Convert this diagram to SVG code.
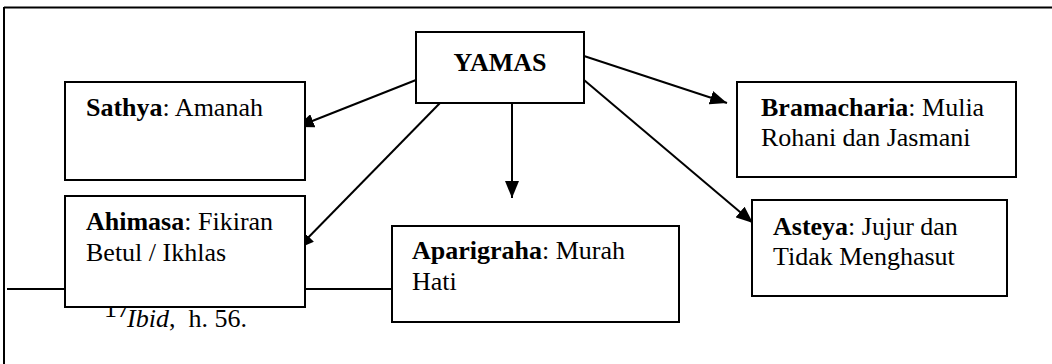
<svg xmlns="http://www.w3.org/2000/svg" width="1052" height="364" viewBox="0 0 1052 364">
<style>
.box{fill:#fff;stroke:#000;stroke-width:2}
.t{font-family:"Liberation Serif","Times New Roman",serif;font-size:26px;fill:#000}
.b{font-weight:bold}
.c{stroke:#000;stroke-width:2;fill:none}
.frame{stroke:#000;stroke-width:2;fill:none}
</style>
<defs>
<marker id="ah" markerUnits="userSpaceOnUse" markerWidth="18" markerHeight="14" refX="17" refY="7" orient="auto">
<path d="M0,0 L17,7 L0,14 z" fill="#000"/>
</marker>
</defs>
<rect width="1052" height="364" fill="#fff"/>
<g id="frame">
<line class="frame" x1="4" y1="7.5" x2="1052" y2="7.5"/>
<line class="frame" x1="4" y1="7" x2="4" y2="364"/>
<line class="frame" x1="7" y1="289" x2="392" y2="289"/>
</g>
<g id="footnote">
<text class="t" x="104" y="317" font-size="16">17</text>
<text class="t" x="127" y="327" xml:space="preserve"><tspan font-style="italic">Ibid</tspan>,  h. 56.</text>
</g>
<g id="connectors">
<line class="c" x1="416" y1="80" x2="297" y2="127" marker-end="url(#ah)"/>
<line class="c" x1="440" y1="103" x2="297" y2="249" marker-end="url(#ah)"/>
<line class="c" x1="512" y1="103" x2="512" y2="198" marker-end="url(#ah)"/>
<line class="c" x1="584" y1="56" x2="727" y2="103" marker-end="url(#ah)"/>
<line class="c" x1="584" y1="80" x2="753" y2="223" marker-end="url(#ah)"/>
</g>
<g id="yamas">
<rect class="box" x="416" y="32" width="168" height="71"/>
<text class="t b" x="500" y="71" font-size="30" text-anchor="middle">YAMAS</text>
</g>
<g id="sathya">
<rect class="box" x="65" y="82" width="240" height="98"/>
<text class="t" x="86" y="116"><tspan class="b">Sathya</tspan>: Amanah</text>
</g>
<g id="ahimasa">
<rect class="box" x="65" y="196" width="240" height="111"/>
<text class="t" x="86" y="230"><tspan class="b">Ahimasa</tspan>: Fikiran</text>
<text class="t" x="86" y="261">Betul / Ikhlas</text>
</g>
<g id="aparigraha">
<rect class="box" x="392" y="226" width="287" height="96"/>
<text class="t" x="412" y="259"><tspan class="b">Aparigraha</tspan>: Murah</text>
<text class="t" x="412" y="290">Hati</text>
</g>
<g id="bramacharia">
<rect class="box" x="737" y="82" width="279" height="95"/>
<text class="t" x="761" y="116"><tspan class="b">Bramacharia</tspan>: Mulia</text>
<text class="t" x="761" y="146">Rohani dan Jasmani</text>
</g>
<g id="asteya">
<rect class="box" x="752" y="200" width="255" height="96"/>
<text class="t" x="773" y="235"><tspan class="b">Asteya</tspan>: Jujur dan</text>
<text class="t" x="773" y="265">Tidak Menghasut</text>
</g>
</svg>
